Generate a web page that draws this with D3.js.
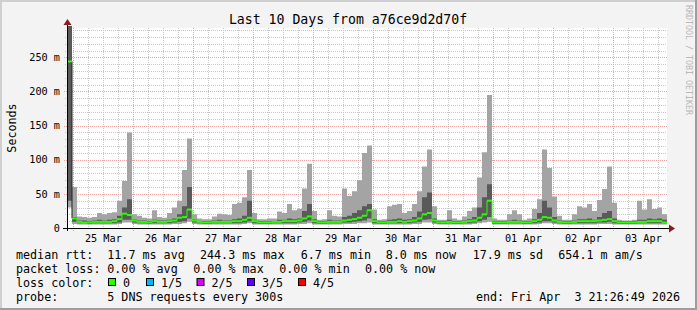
<!DOCTYPE html>
<html>
<head>
<meta charset="utf-8">
<script src="https://cdn.jsdelivr.net/npm/d3@7"></script>
<style>
  body { margin: 0; background: #f3f3f3; }
  svg { display: block; font-family: "DejaVu Sans Mono", monospace; }
</style>
</head>
<body>
<div id="chart"></div>
<script>
// 2-hour consolidated rtt values (ms), 10 days from Mar 24 21:26:49 to Apr 3 21:26:49
const rttMax = [
  298,60,17,16,15,16,22,20,22,23, 40,69,140,20,18,15,14,26,16,15,
  22,30,40,85,131,20,14,13,13,17, 21,20,19,35,37,45,85,22,13,13,
  14,14,24,22,35,26,28,58,94,25, 12,13,26,18,17,58,47,54,70,110,
  121,27,12,13,32,34,35,22,25,35, 54,90,115,32,12,12,26,14,12,17,
  25,30,74,111,195,14,12,12,20,26, 20,12,14,28,42,115,88,46,18,12,
  12,20,32,30,35,25,41,57,90,37, 12,11,11,12,40,27,42,28,30,20
];
const rttHi = [
  298,16,11,11,10,11,12,11,12,13, 18,30,42,13,11,11,10,12,11,11,
  12,14,20,32,60,13,10,10,10,11, 12,11,11,13,14,18,40,12,10,10,
  10,10,12,12,14,13,14,25,35,13, 10,10,12,11,11,16,18,22,26,32,
  35,13,10,10,12,13,14,12,13,16, 24,45,52,14,10,10,12,10,10,11,
  13,16,30,45,64,10,10,10,11,12, 11,10,10,13,22,40,30,16,11,10,
  10,11,13,13,14,12,16,22,25,14, 10,10,10,10,12,12,14,13,14,12
];
const rttMedian = [
  244,14,9,8,8,9,9,9,9,10, 13,21,19,11,9,9,8,10,9,9,
  10,11,15,16,27,11,9,8,8,9, 9,9,9,10,10,12,15,10,8,8,
  8,9,9,10,10,10,11,14,17,10, 8,8,9,9,9,11,12,13,15,18,
  26,10,8,8,9,9,10,9,10,11, 14,20,22,11,8,8,9,8,8,9,
  10,11,15,20,40,8,8,8,9,9, 9,8,8,10,12,16,15,11,9,8,
  8,9,10,10,10,10,11,12,13,10, 8,8,8,8,9,9,10,10,10,8
];
const rttLo = [
  40,9,7,7,6,7,7,7,7,7, 8,12,12,8,7,7,6,7,7,7,
  7,8,9,10,14,8,7,6,6,7, 7,7,7,7,7,8,10,7,6,6,
  6,7,7,7,7,7,8,9,11,7, 6,6,7,7,7,8,8,9,10,11,
  14,7,6,6,7,7,7,7,7,8, 9,12,13,8,6,6,7,6,6,7,
  7,8,10,12,16,6,6,6,7,7, 7,6,6,7,8,10,10,8,7,6,
  6,7,7,7,7,7,8,8,9,7, 6,6,6,6,7,7,7,7,7,7
];
const rttMin = [
  30,6,5,5,5,5,5,5,5,5, 6,8,8,6,5,5,5,5,5,5,
  5,6,6,7,9,6,5,5,5,5, 5,5,5,5,5,6,7,5,5,5,
  5,5,5,5,5,5,6,6,7,5, 5,5,5,5,5,6,6,6,7,7,
  8,5,5,5,5,5,5,5,5,6, 6,8,8,6,5,5,5,5,5,5,
  5,6,7,8,9,5,5,5,5,5, 5,5,5,5,6,7,7,6,5,5,
  5,5,5,5,5,5,6,6,6,5, 5,5,5,5,5,5,5,5,5,5
];

const yTicks = [0, 50, 100, 150, 200, 250];
const medianStats = ["11.7 ms avg", "244.3 ms max", "6.7 ms min", "8.0 ms now", "17.9 ms sd", "654.1 m am/s"];
const lossStats = ["0.00 % avg", "0.00 % max", "0.00 % min", "0.00 % now"];
const lossLabels = ["0", "1/5", "2/5", "3/5", "4/5"];

const endTime = Date.UTC(2026, 3, 3, 21, 26, 49);
const startTime = endTime - 10 * 864e5;
const stepMs = 2 * 3600e3;

const W = 697, H = 310;
const plotLeft = 67, plotTop = 28, plotW = 600, plotH = 200;
const plotBottom = plotTop + plotH;

const svg = d3.select("#chart").append("svg")
  .attr("width", W).attr("height", H)
  .attr("xml:space", "preserve");

// background + frame shading
svg.append("rect").attr("width", W).attr("height", H).attr("fill", "#f3f3f3");
svg.append("path").attr("d", `M0,${H} V0 H${W}`).attr("fill", "none")
  .attr("stroke", "#cfcfcf").attr("stroke-width", 4);
svg.append("path").attr("d", `M0,${H} H${W} V0`).attr("fill", "none")
  .attr("stroke", "#9e9e9e").attr("stroke-width", 4);

svg.append("rect").attr("x", plotLeft).attr("y", plotTop).attr("width", plotW).attr("height", plotH)
  .attr("fill", "#fff");

const x = d3.scaleUtc().domain([new Date(startTime), new Date(endTime)]).range([plotLeft, plotLeft + plotW]);
const y = d3.scaleLinear().domain([0, 293]).range([plotBottom, plotTop]);

// grid
const grid = svg.append("g");
const minorY = d3.range(10, 293, 10).filter(v => v % 50 !== 0);
const majorY = yTicks.filter(v => v > 0);
const days = d3.utcDay.range(new Date(startTime), new Date(endTime));
const sixHours = d3.utcHour.every(6).range(new Date(startTime), new Date(endTime))
  .filter(d => d.getUTCHours() !== 0);

grid.selectAll(".hmin").data(minorY).join("line")
  .attr("x1", plotLeft - 2).attr("x2", plotLeft + plotW)
  .attr("y1", d => Math.round(y(d)) + 0.5).attr("y2", d => Math.round(y(d)) + 0.5)
  .attr("stroke", "#c8c8c8").attr("stroke-dasharray", "1,1");
grid.selectAll(".vmin").data(sixHours).join("line")
  .attr("x1", d => Math.round(x(d)) + 0.5).attr("x2", d => Math.round(x(d)) + 0.5)
  .attr("y1", plotTop).attr("y2", plotBottom + 2)
  .attr("stroke", "#c8c8c8").attr("stroke-dasharray", "1,1");
grid.selectAll(".hmaj").data(majorY).join("line")
  .attr("x1", plotLeft - 3).attr("x2", plotLeft + plotW)
  .attr("y1", d => Math.round(y(d)) + 0.5).attr("y2", d => Math.round(y(d)) + 0.5)
  .attr("stroke", "#f0a0a0").attr("stroke-dasharray", "1,1");
grid.selectAll(".vmaj").data(days).join("line")
  .attr("x1", d => Math.round(x(d)) + 0.5).attr("x2", d => Math.round(x(d)) + 0.5)
  .attr("y1", plotTop).attr("y2", plotBottom + 3)
  .attr("stroke", "#f0a0a0").attr("stroke-dasharray", "1,1");

// data rows
const rows = rttMax.map((v, i) => ({
  t: new Date(startTime + i * stepMs),
  t1: new Date(Math.min(startTime + (i + 1) * stepMs, endTime)),
  max: v, hi: rttHi[i], med: rttMedian[i], lo: rttLo[i], min: rttMin[i]
}));
const areaRows = rows.concat([Object.assign({}, rows[rows.length - 1], { t: new Date(endTime) })]);

svg.append("clipPath").attr("id", "clip")
  .append("rect").attr("x", plotLeft).attr("y", plotTop - 2).attr("width", plotW).attr("height", plotH + 2);
const plot = svg.append("g").attr("clip-path", "url(#clip)");

plot.append("path").datum(areaRows)
  .attr("fill", "#a4a4a4")
  .attr("d", d3.area().curve(d3.curveStepAfter)
    .x(d => x(d.t)).y0(d => y(d.min)).y1(d => y(d.max)));
plot.append("path").datum(areaRows)
  .attr("fill", "#5a5a5a")
  .attr("d", d3.area().curve(d3.curveStepAfter)
    .x(d => x(d.t)).y0(d => y(d.lo)).y1(d => y(d.hi)));

// median: vertical connectors, then horizontal per-bin segments
plot.append("g").selectAll("line").data(rows.slice(1)).join("line")
  .attr("x1", d => x(d.t)).attr("x2", d => x(d.t))
  .attr("y1", (d, i) => y(rows[i].med)).attr("y2", d => y(d.med))
  .attr("stroke", (d, i) => Math.abs(rows[i].med - d.med) > 100 ? "#222" : "#26ff00")
  .attr("stroke-width", 1);
plot.append("g").selectAll("line").data(rows).join("line")
  .attr("x1", d => x(d.t)).attr("x2", d => x(d.t1))
  .attr("y1", d => y(d.med)).attr("y2", d => y(d.med))
  .attr("stroke", "#26ff00").attr("stroke-width", 2);

// axes
const axisCol = "#000", arrowCol = "#8b1a1a";
svg.append("line").attr("x1", plotLeft - 4).attr("x2", plotLeft + plotW + 3)
  .attr("y1", plotBottom + 0.5).attr("y2", plotBottom + 0.5).attr("stroke", axisCol);
svg.append("line").attr("x1", plotLeft + 0.5).attr("x2", plotLeft + 0.5)
  .attr("y1", plotBottom + 3).attr("y2", plotTop - 3).attr("stroke", axisCol);
svg.append("path").attr("fill", arrowCol)
  .attr("d", `M${plotLeft + plotW + 2},${plotBottom - 3.5} L${plotLeft + plotW + 8},${plotBottom + 0.5} L${plotLeft + plotW + 2},${plotBottom + 4.5}Z`);
svg.append("path").attr("fill", arrowCol)
  .attr("d", `M${plotLeft - 3.5},${plotTop - 3} L${plotLeft + 0.5},${plotTop - 9} L${plotLeft + 4.5},${plotTop - 3}Z`);

// y labels
svg.append("g").selectAll("text").data(yTicks).join("text")
  .attr("x", 60).attr("y", d => y(d) + 3.7)
  .attr("text-anchor", "end").attr("font-size", "10.2px")
  .text(d => d === 0 ? "0" : d + " m");

// x labels at noon
const noons = days.map(d => d3.utcHour.offset(d, 12)).filter(d => d < endTime);
svg.append("g").selectAll("text").data(noons).join("text")
  .attr("x", d => x(d)).attr("y", 241.5)
  .attr("text-anchor", "middle").attr("font-size", "10.2px")
  .text(d => d3.utcFormat("%d %b")(d));

// title, unit, watermark
svg.append("text").attr("x", 348).attr("y", 24).attr("text-anchor", "middle")
  .attr("font-size", "13.2px").text("Last 10 Days from a76ce9d2d70f");
svg.append("text").attr("transform", "translate(16,128) rotate(-90)")
  .attr("text-anchor", "middle").attr("font-size", "11.7px").text("Seconds");
svg.append("text").attr("transform", "translate(685.5,5) rotate(90)")
  .attr("font-size", "8.3px").attr("fill", "#b8b8b8").text("RRDTOOL / TOBI OETIKER");

// legend
const lg = svg.append("g").attr("font-size", "11.7px");
const medianX = [107.3, 200, 300.7, 385.7, 472.7, 558.3];
const lossX = [107.3, 193.3, 279.3, 365];
lg.append("text").attr("x", 16).attr("y", 258.5).text("median rtt:");
lg.selectAll(".ms").data(medianStats).join("text")
  .attr("x", (d, i) => medianX[i]).attr("y", 258.5).text(d => d);
lg.append("text").attr("x", 16).attr("y", 272.5).text("packet loss:");
lg.selectAll(".ls").data(lossStats).join("text")
  .attr("x", (d, i) => lossX[i]).attr("y", 272.5).text(d => d);
lg.append("text").attr("x", 16).attr("y", 286.5).text("loss color:");
const lossColors = ["#26ff00", "#00b8ff", "#dd00ff", "#5e00ff", "#ff0000"];
const boxX = [108.5, 146.5, 197, 247.5, 298.5];
lg.selectAll(".box").data(lossLabels).join("rect")
  .attr("x", (d, i) => boxX[i]).attr("y", 278.5).attr("width", 7).attr("height", 7)
  .attr("fill", (d, i) => lossColors[i]).attr("stroke", "#000");
lg.selectAll(".bl").data(lossLabels).join("text")
  .attr("x", (d, i) => boxX[i] + 14.5).attr("y", 286.5).text(d => d);
lg.append("text").attr("x", 16).attr("y", 300.5).text("probe:");
lg.append("text").attr("x", 107.3).attr("y", 300.5).text("5 DNS requests every 300s");
lg.append("text").attr("x", 680).attr("y", 300.5).attr("text-anchor", "end")
  .text("end: Fri Apr\u00a0\u00a03 21:26:49 2026");
</script>
</body>
</html>
